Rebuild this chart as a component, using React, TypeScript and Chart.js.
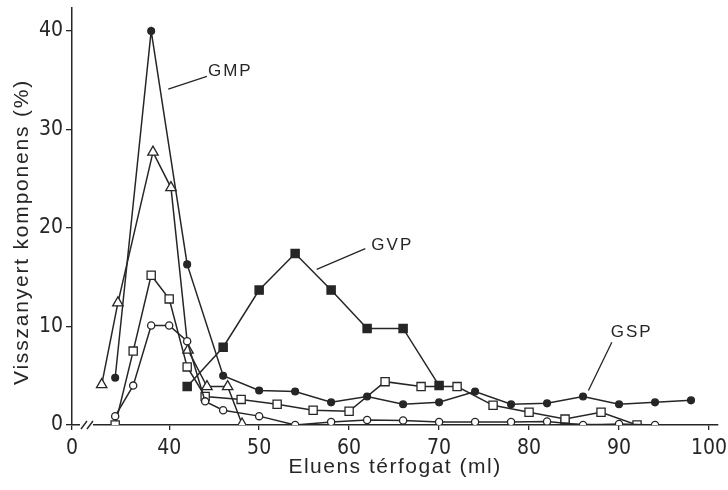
import { useEffect, useRef } from "react";
import { Chart, registerables } from "chart.js";

Chart.register(...registerables);

// ---- data ----
const gmpX = [34, 38, 42, 46, 50, 54, 58, 62, 66, 70, 74, 78, 82, 86, 90, 94, 98];
const gmpY = [4.8, 40, 16.3, 5.0, 3.5, 3.4, 2.3, 2.9, 2.1, 2.3, 3.4, 2.1, 2.2, 2.9, 2.1, 2.3, 2.5];

const gvpX = [42, 46, 50, 54, 58, 62, 66, 70, 77, 84, 89.5];
const gvpY = [3.9, 7.9, 13.7, 17.4, 13.7, 9.8, 9.8, 4.0, null, 0.1, 0];

const triX = [32.5, 34.3, 38.2, 40.2, 42.1, 44.2, 46.5, 48.1];
const triY = [4.1, 12.4, 27.7, 24.1, 7.6, 3.9, 3.9, 0.1];

const sqX = [34, 36, 38, 40, 42, 44, 48, 52, 56, 60, 64, 68, 72, 76, 80, 84, 88, 92];
const sqY = [0, 7.5, 15.2, 12.8, 5.9, 2.9, 2.6, 2.1, 1.5, 1.4, 4.4, 3.9, 3.9, 2.0, 1.3, 0.6, 1.3, 0];

const circX = [34, 36, 38, 40, 42, 44, 46, 50, 54, 58, 62, 66, 70, 74, 78, 82, 86, 90, 94];
const circY = [0.9, 4.0, 10.1, 10.1, 8.5, 2.4, 1.5, 0.9, 0, 0.3, 0.5, 0.45, 0.3, 0.3, 0.3, 0.35, 0, 0.1, 0];

const xTickValues = [40, 50, 60, 70, 80, 90, 100];
const xBreakValue = 29.2; // shown as "0" (broken axis)
const yTickValues = [0, 10, 20, 30, 40];

const xTitle = "Eluens térfogat (ml)";
const yTitle = "Visszanyert komponens (%)";

// curve labels in data space: text position, leader start, leader end
const curveLabels = [
  { text: "GMP", tx: 46.8, ty: 35.9, x1: 39.9, y1: 34.1, x2: 44.2, y2: 35.4 },
  { text: "GVP", tx: 64.8, ty: 18.2, x1: 56.4, y1: 15.8, x2: 61.8, y2: 17.9 },
  { text: "GSP", tx: 91.4, ty: 9.4, x1: 86.6, y1: 3.5, x2: 89.2, y2: 8.4 },
];

const INK = "#262626";
const FONT = "'Liberation Sans', Arial, sans-serif";
const NARROW = "'Liberation Sans Narrow', 'DejaVu Sans Condensed', 'Liberation Sans', sans-serif";

function pts(xs: number[], ys: (number | null)[]) {
  return xs.map((x, i) => ({ x, y: ys[i] }));
}

const decorPlugin = {
  id: "decor",
  beforeDraw(chart: any) {
    const ctx = chart.ctx;
    ctx.save();
    ctx.fillStyle = "#ffffff";
    ctx.fillRect(0, 0, chart.width, chart.height);
    ctx.restore();
  },
  afterDraw(chart: any) {
    const ctx = chart.ctx;
    const xs = chart.scales.x;
    const ys = chart.scales.y;
    const area = chart.chartArea;
    ctx.save();
    // axis break
    const by = area.bottom;
    ctx.fillStyle = "#ffffff";
    ctx.fillRect(area.left + 8, by - 3, 13, 6);
    ctx.strokeStyle = INK;
    ctx.lineWidth = 1.4;
    ctx.beginPath();
    ctx.moveTo(area.left + 9, by + 4);
    ctx.lineTo(area.left + 15, by - 4);
    ctx.moveTo(area.left + 15, by + 4);
    ctx.lineTo(area.left + 21, by - 4);
    ctx.stroke();

    // curve labels
    ctx.fillStyle = INK;
    ctx.textAlign = "center";
    ctx.textBaseline = "middle";
    for (const l of curveLabels) {
      ctx.beginPath();
      ctx.lineWidth = 1.3;
      ctx.moveTo(xs.getPixelForValue(l.x1), ys.getPixelForValue(l.y1));
      ctx.lineTo(xs.getPixelForValue(l.x2), ys.getPixelForValue(l.y2));
      ctx.stroke();
      ctx.font = `17px ${FONT}`;
      (ctx as any).letterSpacing = "2px";
      ctx.fillText(l.text, xs.getPixelForValue(l.tx), ys.getPixelForValue(l.ty));
    }

    // axis titles
    ctx.font = `21px ${FONT}`;
    (ctx as any).letterSpacing = "1.5px";
    ctx.fillText(xTitle, (area.left + area.right) / 2, 467);
    ctx.save();
    ctx.translate(22, 232);
    ctx.rotate(-Math.PI / 2);
    (ctx as any).letterSpacing = "1.8px";
    ctx.fillText(yTitle, 0, 0);
    ctx.restore();
    ctx.restore();
  },
};

export default function App() {
  const ref = useRef<HTMLCanvasElement | null>(null);

  useEffect(() => {
    document.body.style.margin = "0";
    const canvas = ref.current;
    if (!canvas) return;

    const line = {
      borderColor: INK,
      borderWidth: 1.5,
      pointBorderColor: INK,
      pointBorderWidth: 1.3,
      showLine: true,
      spanGaps: false,
      tension: 0,
    };

    const chart = new Chart(canvas, {
      type: "scatter",
      data: {
        datasets: [
          {
            ...line,
            label: "open circles",
            data: pts(circX, circY),
            pointStyle: "circle",
            pointRadius: 3.6,
            pointBackgroundColor: "#ffffff",
          },
          {
            ...line,
            label: "open squares",
            data: pts(sqX, sqY),
            pointStyle: "rect",
            pointRadius: 5.8,
            pointBackgroundColor: "#ffffff",
          },
          {
            ...line,
            label: "open triangles",
            data: pts(triX, triY),
            pointStyle: "triangle",
            pointRadius: 6,
            pointBackgroundColor: "#ffffff",
          },
          {
            ...line,
            label: "GMP",
            data: pts(gmpX, gmpY),
            pointStyle: "circle",
            pointRadius: 3.4,
            pointBackgroundColor: INK,
          },
          {
            ...line,
            label: "GVP",
            data: pts(gvpX, gvpY),
            pointStyle: "rect",
            pointRadius: gvpX.map((_, i) => (i === gvpX.length - 1 ? 0 : 5.8)),
            pointBackgroundColor: INK,
          },
        ],
      },
      plugins: [decorPlugin],
      options: {
        animation: false,
        responsive: false,
        devicePixelRatio: 1,
        layout: { padding: { top: 5, right: 10, left: 0, bottom: 0 } },
        plugins: {
          legend: { display: false },
          tooltip: { enabled: false },
        },
        scales: {
          x: {
            type: "linear",
            min: xBreakValue,
            max: 101,
            afterFit: (s: any) => {
              s.height = 65;
              s.paddingLeft = 0;
              s.paddingRight = 0;
            },
            afterBuildTicks: (s: any) => {
              s.ticks = [xBreakValue, ...xTickValues].map((v) => ({ value: v }));
            },
            ticks: {
              color: INK,
              font: { family: NARROW, size: 21 },
              padding: 6,
              maxRotation: 0,
              autoSkip: false,
              callback: (v: any) => (Number(v) === xBreakValue ? "0" : String(v)),
            },
            grid: {
              display: true,
              drawOnChartArea: false,
              drawTicks: true,
              tickLength: 5,
              color: INK,
              lineWidth: 1.3,
            },
            border: { display: true, color: INK, width: 1.5 },
          },
          y: {
            type: "linear",
            min: 0,
            max: 42.4,
            afterFit: (s: any) => {
              s.width = 72;
              s.paddingTop = 0;
              s.paddingBottom = 0;
            },
            afterBuildTicks: (s: any) => {
              s.ticks = yTickValues.map((v) => ({ value: v }));
            },
            ticks: {
              color: INK,
              font: { family: NARROW, size: 21 },
              padding: 3,
              autoSkip: false,
            },
            grid: {
              display: true,
              drawOnChartArea: false,
              drawTicks: true,
              tickLength: 6,
              color: INK,
              lineWidth: 1.3,
            },
            border: { display: true, color: INK, width: 1.5 },
          },
        },
      },
    } as any);

    return () => chart.destroy();
  }, []);

  return (
    <div style={{ width: 728, height: 490 }}>
      <canvas ref={ref} width={728} height={490} style={{ display: "block" }} />
    </div>
  );
}
